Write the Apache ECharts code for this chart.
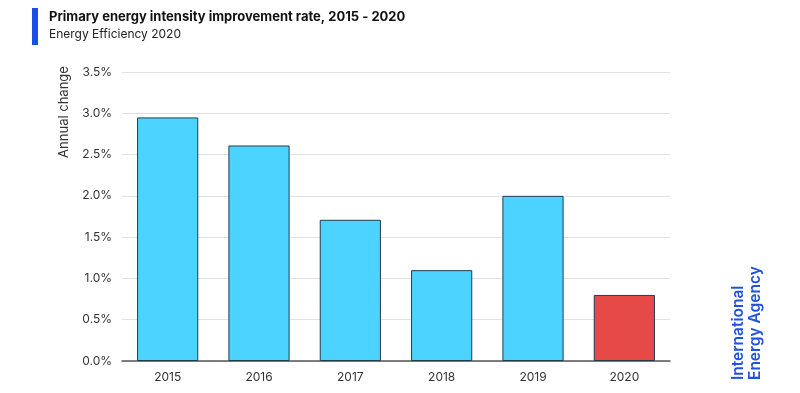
<!DOCTYPE html>
<html><head><meta charset="utf-8">
<script src="https://cdn.jsdelivr.net/npm/echarts@6/dist/echarts.min.js"></script>
<style>html,body{margin:0;padding:0;background:#fff}#c{width:800px;height:393px}</style>
</head><body><div id="c"></div>
<script>
const categories = ['2015','2016','2017','2018','2019','2020'];
const values = [2.95, 2.61, 1.71, 1.10, 2.00, 0.80];
const barColors = ['#4dd3ff','#4dd3ff','#4dd3ff','#4dd3ff','#4dd3ff','#e64a47'];
const yTicks = [0, 0.5, 1, 1.5, 2, 2.5, 3, 3.5];

const chart = echarts.init(document.getElementById('c'));
const font = 'Inter, "Noto Sans", sans-serif';
chart.setOption({
  animation: false,
  textStyle: {fontFamily: font},
  grid: {left: 122, right: 130, top: 72, bottom: 32},
  xAxis: {
    type: 'category', data: categories,
    axisLine: {lineStyle: {color: '#555', width: 1.5}},
    axisTick: {show: false},
    axisLabel: {color: '#333', fontSize: 12, margin: 10, fontFamily: font}
  },
  yAxis: {
    type: 'value', min: 0, max: 3.5, interval: 0.5,
    axisLine: {show: false}, axisTick: {show: false},
    splitLine: {lineStyle: {color: '#e2e2e2'}},
    axisLabel: {color: '#333', fontSize: 12, margin: 10, fontFamily: font,
      formatter: v => v.toFixed(1) + '%'}
  },
  series: [{
    type: 'bar', barWidth: '67%',
    data: values.map((v, i) => ({value: v, itemStyle: {color: barColors[i]}})),
    itemStyle: {borderColor: '#1f3d4f', borderWidth: 1}
  }],
  graphic: [
    {type: 'rect', shape: {x: 32, y: 8, width: 6, height: 37}, style: {fill: '#1a4fe6'}},
    {type: 'text', left: 49, top: 11, style: {text: 'Primary energy intensity improvement rate, 2015 - 2020', font: 'bold 13px ' + font, fill: '#111'}},
    {type: 'text', left: 49, top: 28, style: {text: 'Energy Efficiency 2020', font: '12px ' + font, fill: '#222'}},
    {type: 'text', x: 64, y: 112, rotation: Math.PI/2, style: {text: 'Annual change', font: '13px ' + font, fill: '#333', align: 'center', verticalAlign: 'middle'}},
    {type: 'text', x: 738, y: 380, rotation: Math.PI/2, style: {text: 'International', font: '600 15.5px ' + font, fill: '#1f52e0', align: 'left', verticalAlign: 'middle'}},
    {type: 'text', x: 755, y: 380, rotation: Math.PI/2, style: {text: 'Energy Agency', font: '600 15.5px ' + font, fill: '#1f52e0', align: 'left', verticalAlign: 'middle'}}
  ]
});
</script></body></html>
